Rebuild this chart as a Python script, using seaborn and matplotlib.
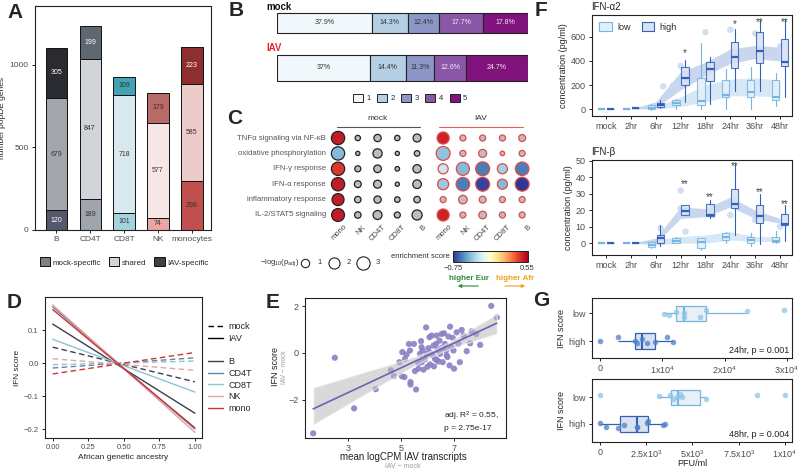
import numpy as np
import pandas as pd
import matplotlib
matplotlib.use("Agg")
import matplotlib.pyplot as plt
from matplotlib.patches import Patch
from matplotlib.lines import Line2D
from matplotlib.colors import Normalize
from matplotlib.cm import ScalarMappable
import seaborn as sns

nan = np.nan

# ---------------- A: popDE genes per cell type
cell_types = ['B', 'CD4T', 'CD8T', 'NK', 'monocytes']
mock_specific = [120, 189, 101, 74, 298]
shared = [679, 847, 718, 577, 585]
iav_specific = [305, 199, 109, 179, 223]

# ---------------- B: quintile percentages
quintiles = ['1', '2', '3', '4', '5']
pct_mock = [37.9, 14.3, 12.4, 17.7, 17.8]
pct_iav = [37, 14.4, 11.3, 12.6, 24.7]

# ---------------- C: pathway enrichment dot plot
pathways = ['TNFα signaling via NF-κB', 'oxidative phosphorylation', 'IFN-γ response',
            'IFN-α response', 'inflammatory response', 'IL-2/STAT5 signaling']
dot_cells = ['mono', 'NK', 'CD4T', 'CD8T', 'B']
mock_logp = [[3.0, 0.25, 0.7, 0.25, 0.9],
             [3.0, 0.05, 1.3, 0.05, 0.3],
             [3.0, 0.4, 0.8, 0.1, 1.0],
             [3.0, 0.6, 0.9, 0.05, 1.1],
             [2.4, 0.5, 0.7, 0.3, 0.5],
             [2.8, 0.5, 1.2, 0.4, 1.6]]
mock_es = [[0.47, nan, nan, nan, nan],
           [-0.45, nan, nan, nan, nan],
           [0.40, nan, nan, nan, nan],
           [0.47, nan, nan, nan, nan],
           [0.47, nan, nan, nan, nan],
           [0.47, nan, nan, nan, nan]]
iav_logp = [[2.4, 0.4, 0.4, 0.4, 0.6],
            [3.3, 0.4, 0.9, 0.1, 0.4],
            [1.6, 2.9, 3.3, 1.6, 3.1],
            [2.0, 3.1, 3.3, 1.6, 3.3],
            [0.4, 1.1, 0.6, 0.4, 0.4],
            [2.4, 0.4, 0.8, 0.4, 0.4]]
iav_es = [[0.45, nan, nan, nan, nan],
          [-0.42, nan, nan, nan, nan],
          [-0.28, -0.45, -0.6, -0.38, -0.6],
          [-0.4, -0.6, -0.72, -0.45, -0.75],
          [nan, nan, nan, nan, nan],
          [0.45, nan, nan, nan, nan]]

# ---------------- D: IFN score vs ancestry (fitted line ends)
d_cells = ['B', 'CD4T', 'CD8T', 'NK', 'mono']
d_colors = ['#3b3f4f', '#5b87a8', '#8fc3d5', '#e3a2a2', '#cf3434']
ancestry = [0.0, 1.0]
iav_score = [[0.118, -0.152], [0.170, -0.200], [0.072, -0.088], [0.176, -0.210], [0.162, -0.196]]
mock_score = [[0.048, -0.057], [-0.015, 0.016], [-0.005, 0.006], [0.013, -0.022], [-0.033, 0.032]]

# ---------------- E: IFN score vs IAV transcripts
e_logcpm = [1.67, 2.49, 3.22, 4.04, 4.62, 4.73, 4.94, 5.03, 5.13, 5.05, 5.30, 5.34, 5.36, 5.36,
            5.49, 5.53, 5.57, 5.66, 5.72, 5.76, 5.78, 5.82, 5.85, 5.91, 5.95, 5.97, 6.04, 6.08,
            6.10, 6.13, 6.16, 6.20, 6.23, 6.25, 6.33, 6.35, 6.39, 6.42, 6.46, 6.48, 6.54, 6.58,
            6.63, 6.67, 6.71, 6.73, 6.80, 6.84, 6.86, 6.90, 6.96, 6.99, 7.01, 7.11, 7.18, 7.23,
            7.30, 7.37, 7.49, 7.62, 7.68, 7.85, 8.00, 8.42, 8.63, 5.15, 5.21, 6.35, 6.54, 5.78,
            6.76, 6.29, 6.00, 5.66]
e_ifn = [-3.45, -0.21, -2.38, -1.56, -0.75, -1.00, -0.40, -1.00, -1.04, 0.03, 0.38, 0.10, -1.25,
         -1.36, 0.38, -0.78, -1.57, -0.44, -0.04, 0.50, -0.40, 0.10, -0.72, -0.27, 1.09, -0.04,
         0.20, 0.67, -0.50, -0.01, 0.74, -0.11, 0.31, -0.58, 0.38, -0.30, 0.13, -0.37, 0.52,
         -0.04, 0.20, -0.40, 0.84, 0.38, 0.10, -0.11, 0.70, -0.54, 1.12, 0.24, 0.64, 0.10, -0.68,
         0.88, 0.38, -0.40, 0.98, 0.74, 0.07, 0.41, 0.92, 0.81, 0.34, 2.01, 1.52, -0.26, -0.07,
         0.74, 0.81, 0.24, -0.18, -0.26, -0.60, -0.68]

# ---------------- F: cytokine secretion over time
times = ['mock', '2hr', '6hr', '12hr', '18hr', '24hr', '36hr', '48hr']
a2_low_lo = [0, 0, -5, 0, 0, 0, 0, 25]
a2_low_q1 = [0, 0, 0, 35, 30, 100, 100, 75]
a2_low_med = [0, 0, 10, 50, 70, 120, 145, 100]
a2_low_q3 = [0, 0, 30, 75, 260, 240, 240, 240]
a2_low_hi = [0, 0, 40, 85, 550, 330, 350, 300]
a2_high_lo = [0, 5, 10, 60, 40, 150, 150, 100]
a2_high_q1 = [0, 8, 20, 200, 230, 340, 380, 360]
a2_high_med = [0, 10, 35, 255, 330, 430, 480, 390]
a2_high_q3 = [0, 12, 48, 350, 390, 555, 640, 580]
a2_high_hi = [0, 15, 75, 410, 430, 670, 740, 740]
a2_low_band = [[0, 0, 0, 20, 60, 110, 110, 100], [0, 0, 20, 100, 200, 250, 260, 240]]
a2_high_band = [[0, 0, 10, 160, 280, 380, 420, 400], [0, 0, 60, 310, 390, 500, 530, 515]]
a2_pt_time = [2.3, 2.7, 3, 3.2, 4, 5, 6, 7]
a2_pt_val = [190, 195, 360, 300, 640, 660, 630, 520]
a2_stars = {3: '*', 5: '*', 6: '**', 7: '**'}
a2_star_y = [0, 0, 0, 470, 0, 705, 725, 725]

b_low_lo = [0, 0, -3, 0, -4, 0, -2, 0]
b_low_q1 = [0, 0, -2.5, 0, -3, 2, 0, 0.5]
b_low_med = [0, 0, -1, 1, 0.5, 3.5, 2, 1]
b_low_q3 = [0, 0, 0.5, 3, 3, 6, 4, 4]
b_low_hi = [0, 0, 0.5, 4, 3, 7, 6, 7.5]
b_high_lo = [0, 0, -2, 17, 15, 5, -0.5, 1]
b_high_q1 = [0, 0, 0, 17, 16.5, 21.5, 12, 11]
b_high_med = [0, 0, 3, 19.5, 17, 23.5, 16.5, 11.5]
b_high_q3 = [0, 0, 5, 23, 23.5, 33, 23, 18]
b_high_hi = [0, 0, 11, 23, 26, 48, 30, 23]
b_low_band = [[0, 0, -1, 0, 0, 2, 1, 1], [0, 0, 2, 4, 5, 7, 4, 4]]
b_high_band = [[0, 0, 0, 15, 16, 22, 15, 12], [0, 0, 3, 22, 21, 28, 20, 15]]
b_pt_time = [2.2, 3, 3, 3.2, 4.3, 5, 6, 7]
b_pt_val = [9, 32, 21, 7, 17, 17, 14, 10]
b_stars = {3: '**', 4: '**', 5: '**', 6: '**', 7: '**'}
b_star_y = [0, 0, 0, 36, 28, 47, 31, 24]

# ---------------- G: viral titres by IFN score group
g24_low = [10300, 11000, 12200, 13500, 13500, 16100, 17000, 23570, 29460]
g24_high = [0, 2900, 5600, 6000, 6700, 7500, 8800, 10800, 11700]
g48_low = [0, 3200, 3780, 3960, 4140, 4320, 4410, 5730, 8470, 10000]
g48_high = [0, 325, 1000, 1300, 1980, 2000, 2560, 2600, 3400, 3510]

# ======================================================================
sns.set_theme(style='ticks')
plt.rcParams['font.family'] = ['Liberation Sans', 'DejaVu Sans']
plt.rcParams['mathtext.default'] = 'regular'
plt.rcParams['font.size'] = 6
plt.rcParams['axes.linewidth'] = 0.8
plt.rcParams['axes.edgecolor'] = '#222222'
plt.rcParams['xtick.major.size'] = 2.5
plt.rcParams['ytick.major.size'] = 2.5
plt.rcParams['xtick.major.width'] = 0.7
plt.rcParams['ytick.major.width'] = 0.7
plt.rcParams['xtick.major.pad'] = 2
plt.rcParams['ytick.major.pad'] = 2

W, H = 800, 470
fig = plt.figure(figsize=(8, 4.7), dpi=100)


def box(l, t, r, b):
    return [l / W, 1 - b / H, (r - l) / W, (b - t) / H]


def ftext(x, y, s, **kw):
    kw.setdefault('ha', 'center')
    kw.setdefault('va', 'center')
    fig.text(x / W, 1 - y / H, s, **kw)


def frame(ax, fs=6):
    for sp in ax.spines.values():
        sp.set_visible(True)
        sp.set_color('#222222')
        sp.set_linewidth(0.8)
    ax.tick_params(labelsize=fs, colors='#222222', labelcolor='#4d4d4d')


for letter, (x, y) in zip('ABCDEFG', [(15, 12), (236, 11), (235, 118), (14, 302),
                                       (273, 303), (541, 11), (541, 301)]):
    ftext(x, y, letter, fontsize=15, fontweight='bold')

# ---------------- A
ax = fig.add_axes(box(35, 6, 211, 230))
a_cols = {'mock': ['#55586a', '#a0a4ad', '#a4d3e0', '#eaa6a5', '#c0504e'],
          'shared': ['#a3a5ad', '#d2d4da', '#d9e9ef', '#f7e6e6', '#edcbc9'],
          'iav': ['#2a2b31', '#5f6771', '#43a2b3', '#b96a67', '#8e2f2f']}
a_white = {'mock': [True, False, False, False, False], 'shared': [False] * 5,
           'iav': [True, True, False, False, True]}
xs = np.arange(len(cell_types))
bottom = np.zeros(len(cell_types))
for key, vals in [('mock', mock_specific), ('shared', shared), ('iav', iav_specific)]:
    ax.bar(xs, vals, bottom=bottom, width=0.62, color=a_cols[key], edgecolor='#111111', lw=0.7)
    for i, v in enumerate(vals):
        ax.text(i, bottom[i] + v / 2, str(v), ha='center', va='center', fontsize=5,
                color='white' if a_white[key][i] else '#333333')
    bottom += np.array(vals)
ax.set_xlim(-0.62, 4.56)
ax.set_ylim(0, 1357)
ax.set_yticks([0, 500, 1000])
ax.set_xticks(xs, cell_types)
ax.set_ylabel('number popDE genes', fontsize=6, labelpad=3)
frame(ax, 6)
a_handles = [Patch(facecolor=c, edgecolor='#111111', lw=0.7) for c in ['#808080', '#d4d4d4', '#404040']]
fig.legend(a_handles, ['mock-specific', 'shared', 'IAV-specific'], loc='center',
           bbox_to_anchor=(124 / W, 1 - 262 / H), ncol=3, frameon=False, fontsize=5.8,
           handlelength=1.3, handleheight=1.3, handletextpad=0.3, columnspacing=1.0)

# ---------------- B
axb = fig.add_axes(box(277, 5, 528, 85))
b_cols = ['#f0f8fb', '#b5cfe4', '#8c97c7', '#8a57a8', '#80137c']
b_txt = ['#333333', '#333333', '#333333', '#eeeeee', '#eeeeee']
b_height = [0.44, 0.58]
for row, vals in enumerate([pct_mock, pct_iav]):
    left = 0
    for k, v in enumerate(vals):
        axb.barh(row, v, left=left, height=b_height[row], color=b_cols[k], edgecolor='#222222', lw=0.8)
        axb.text(left + v / 2, row, f'{v:g}%', ha='center', va='center', fontsize=5, color=b_txt[k])
        left += v
axb.set_xlim(0, 100.1)
axb.set_ylim(1.378, -0.4)
axb.axis('off')
ftext(266, 7, 'mock', fontsize=7, fontweight='bold', ha='left', color='#111111')
ftext(266, 48, 'IAV', fontsize=7, fontweight='bold', ha='left', color='#e8262b')
fig.legend([Patch(facecolor=c, edgecolor='#222222', lw=0.7) for c in b_cols], quintiles,
           loc='center', bbox_to_anchor=(410 / W, 1 - 98 / H), ncol=5, frameon=False,
           fontsize=5.5, handlelength=1.3, handleheight=1.3, handletextpad=0.4, columnspacing=0.9)

# ---------------- C
axc = fig.add_axes(box(325, 128, 535, 225))
cmap = plt.get_cmap('RdYlBu_r')
norm = Normalize(-0.75, 0.55)
iav_off = 5.32
for off, logp, es, edge in [(0, mock_logp, mock_es, '#222222'), (iav_off, iav_logp, iav_es, '#e04a4a')]:
    logp = np.array(logp)
    es = np.array(es, dtype=float)
    px, py, ps, pc = [], [], [], []
    for r in range(len(pathways)):
        for c in range(len(dot_cells)):
            px.append(c + off)
            py.append(r)
            ps.append(7.8 + 28 * logp[r, c])
            pc.append('#bdbdbd' if np.isnan(es[r, c]) else cmap(norm(es[r, c])))
    axc.scatter(px, py, s=ps, c=pc, edgecolors=edge, linewidths=0.9, zorder=3)
    for c, name in enumerate(dot_cells):
        axc.text(c + off + 0.25, 5.55, name, rotation=45, ha='right', va='top',
                 rotation_mode='anchor', fontsize=5.5, color='#444444')
for r, name in enumerate(pathways):
    axc.text(-0.6, r, name, ha='right', va='center', fontsize=5.6, color='#555555')
axc.set_xlim(-0.66, 9.97)
axc.set_ylim(5.65, -0.65)
axc.axis('off')

ov = fig.add_axes([0, 0, 1, 1], zorder=-1)
ov.set_xlim(0, W)
ov.set_ylim(H, 0)
ov.axis('off')
ov.plot([337, 420], [127, 127], color='#555555', lw=0.8)
ov.plot([439, 523], [127, 127], color='#e06060', lw=0.8)
ftext(378, 119, 'mock', fontsize=6, color='#333333')
ftext(481, 119, 'IAV', fontsize=6, color='#333333')

ftext(280, 263, '$-log_{10}(p_{adj})$', fontsize=5.5, color='#333333')
for v, cx in zip([1, 2, 3], [305, 334, 363]):
    ov.scatter([cx], [263], s=7.8 + 28 * v, facecolor='white', edgecolor='#222222', lw=0.8)
    ftext(cx + 15, 263, str(v), fontsize=5.5, color='#333333')
ftext(420, 257, 'enrichment score', fontsize=5.5, color='#333333')
cax = fig.add_axes(box(453, 251, 528, 262))
cb = fig.colorbar(ScalarMappable(norm=norm, cmap=cmap), cax=cax, orientation='horizontal')
cb.set_ticks([])
cb.outline.set_linewidth(0.7)
ftext(453, 269, '−0.75', fontsize=5.5, color='#333333')
ftext(527, 269, '0.55', fontsize=5.5, color='#333333')
ftext(469, 278, 'higher Eur', fontsize=5.8, fontweight='bold', color='#2e8b3a')
ftext(515, 278, 'higher Afr', fontsize=5.8, fontweight='bold', color='#f2a01c')
ov.annotate('', xy=(455, 286), xytext=(481, 286),
            arrowprops=dict(arrowstyle='-|>', color='#2e8b3a', lw=0.8, mutation_scale=5))
ov.annotate('', xy=(528, 286), xytext=(502, 286),
            arrowprops=dict(arrowstyle='-|>', color='#f2a01c', lw=0.8, mutation_scale=5))

# ---------------- D
axd = fig.add_axes(box(45, 297, 202, 438))
d_rows = []
for i, cell in enumerate(d_cells):
    for cond, scores in [('mock', mock_score), ('IAV', iav_score)]:
        for a, s in zip(ancestry, scores[i]):
            d_rows.append({'ancestry': a, 'score': s, 'cell': cell, 'condition': cond})
d_df = pd.DataFrame(d_rows)
sns.lineplot(data=d_df, x='ancestry', y='score', hue='cell', style='condition',
             palette=dict(zip(d_cells, d_colors)), dashes={'IAV': '', 'mock': (4, 2.5)},
             legend=False, lw=1.0, ax=axd)
axd.set_xlim(-0.054, 1.05)
axd.set_ylim(-0.227, 0.2)
axd.set_xticks([0, 0.25, 0.5, 0.75, 1.0], ['0.00', '0.25', '0.50', '0.75', '1.00'])
axd.set_yticks([-0.2, -0.1, 0, 0.1], ['−0.2', '−0.1', '0.0', '0.1'])
axd.set_xlabel('African genetic ancestry', fontsize=6, labelpad=2)
axd.set_ylabel('IFN score', fontsize=6, labelpad=2)
frame(axd, 5.5)
d_handles = [Line2D([], [], color='black', lw=1, ls=(0, (4, 2.5))), Line2D([], [], color='black', lw=1),
             Line2D([], [], color='none')] + [Line2D([], [], color=c, lw=1) for c in d_colors]
axd.legend(d_handles, ['mock', 'IAV', ''] + d_cells, loc='center left', bbox_to_anchor=(1.04, 0.5),
           frameon=False, fontsize=6.5, handlelength=1.6, handletextpad=0.6, labelspacing=0.3,
           borderaxespad=0, borderpad=0)

# ---------------- E
axe = fig.add_axes(box(305, 298, 506, 438))
sns.regplot(x=e_logcpm, y=e_ifn, ax=axe, ci=95,
            scatter_kws=dict(s=20, color='#8d7fc4', alpha=0.9, edgecolor='none'),
            line_kws=dict(color='#7060b8', lw=1.2))
for coll in axe.collections[1:]:
    coll.set_facecolor('#bbbbbb')
    coll.set_alpha(0.55)
axe.set_xlim(1.36, 8.98)
axe.set_ylim(-3.65, 2.35)
axe.set_xticks([3, 5, 7])
axe.set_yticks([-2, 0, 2], ['−2', '0', '2'])
frame(axe, 6.5)
ftext(276, 367, 'IFN score', fontsize=6.5, rotation=90, color='#222222')
ftext(285, 367, 'IAV − mock', fontsize=4.8, rotation=90, color='#999999')
ftext(403, 457, 'mean logCPM IAV transcripts', fontsize=7, color='#222222')
ftext(403, 467, 'IAV − mock', fontsize=5, color='#999999')
axe.text(0.69, 0.2, 'adj. R$^2$ = 0.55,\np = 2.75e-17', transform=axe.transAxes,
         ha='left', va='top', fontsize=6, color='#222222', linespacing=1.3)

# ---------------- F
low_edge, low_face = '#74b6e2', '#e4f0f9'
high_edge, high_face = '#2f62b6', '#d8e1f2'


def stats_list(lo, q1, med, q3, hi):
    return [dict(whislo=a, q1=b, med=c, q3=d, whishi=e) for a, b, c, d, e in zip(lo, q1, med, q3, hi)]


def f_panel(rect, low, high, low_band, high_band, pt_t, pt_v, stars, star_y, ylim, yticks, title):
    axf = fig.add_axes(box(*rect))
    pos = np.arange(len(times))
    axf.fill_between(pos, low_band[0], low_band[1], color='#c7def2', alpha=0.7, lw=0, zorder=1)
    axf.fill_between(pos, high_band[0], high_band[1], color='#a8bce3', alpha=0.6, lw=0, zorder=1)
    axf.scatter(pt_t, pt_v, s=22, color='#c9d7ee', alpha=0.8, edgecolor='none', zorder=1)
    for st, off, ec, fc in [(low, -0.18, low_edge, low_face), (high, 0.18, high_edge, high_face)]:
        axf.bxp(st, positions=pos + off, widths=0.29, patch_artist=True, showfliers=False,
                showcaps=False, manage_ticks=False,
                boxprops=dict(facecolor=fc, edgecolor=ec, lw=0.8, alpha=0.85),
                medianprops=dict(color=ec, lw=1.6),
                whiskerprops=dict(color=ec, lw=0.8), zorder=2)
    for t, s in stars.items():
        axf.text(t + 0.18, star_y[t], s, ha='center', va='center', fontsize=7, color='#444444')
    axf.set_xlim(-0.56, 7.48)
    axf.set_ylim(*ylim)
    axf.set_xticks(pos, times)
    axf.set_yticks(yticks)
    axf.set_ylabel('concentration (pg/ml)', fontsize=6.5, labelpad=2)
    frame(axf, 6.5)
    ftext(rect[0] - 1, rect[1] - 8, title, fontsize=7, ha='left', color='#222222')
    return axf


axf1 = f_panel((592, 15, 792, 116),
               stats_list(a2_low_lo, a2_low_q1, a2_low_med, a2_low_q3, a2_low_hi),
               stats_list(a2_high_lo, a2_high_q1, a2_high_med, a2_high_q3, a2_high_hi),
               a2_low_band, a2_high_band, a2_pt_time, a2_pt_val, a2_stars, a2_star_y,
               (-58, 783), [0, 200, 400, 600], 'IFN-α2')
axf1.legend([Patch(facecolor=low_face, edgecolor=low_edge, lw=0.8),
             Patch(facecolor=high_face, edgecolor=high_edge, lw=0.8)], ['low', 'high'],
            loc='upper left', ncol=2, frameon=False, fontsize=6.5, handlelength=1.4,
            handleheight=1.2, handletextpad=0.6, columnspacing=1.2, borderaxespad=0.4)
f_panel((592, 160, 792, 255),
        stats_list(b_low_lo, b_low_q1, b_low_med, b_low_q3, b_low_hi),
        stats_list(b_high_lo, b_high_q1, b_high_med, b_high_q3, b_high_hi),
        b_low_band, b_high_band, b_pt_time, b_pt_val, b_stars, b_star_y,
        (-7.2, 50.5), [0, 10, 20, 30, 40, 50], 'IFN-β')

# ---------------- G
g_point = {'low': '#8cc4e8', 'high': '#4f7fc8'}
g_face = {'low': low_face, 'high': high_face}
g_edge = {'low': low_edge, 'high': high_edge}


def g_panel(rect, low_vals, high_vals, xlim, xticks, xlabels, ylim, note):
    axg = fig.add_axes(box(*rect))
    for grp, vals in [('low', low_vals), ('high', high_vals)]:
        sns.boxplot(x=vals, y=[grp] * len(vals), order=['low', 'high'], orient='h', width=0.56,
                    color=g_face[grp], linecolor=g_edge[grp], linewidth=0.9, showfliers=False,
                    showcaps=False, medianprops=dict(lw=1.5), ax=axg)
        sns.stripplot(x=vals, y=[grp] * len(vals), order=['low', 'high'], orient='h', jitter=0.15,
                      color=g_point[grp], alpha=0.75, size=4, ax=axg, zorder=3)
    axg.set_xlim(*xlim)
    axg.set_ylim(*ylim)
    axg.set_xticks(xticks, xlabels)
    axg.set_ylabel('IFN score', fontsize=6.5, labelpad=2)
    axg.set_xlabel('')
    frame(axg, 6.5)
    axg.text(0.985, 0.12, note, transform=axg.transAxes, ha='right', va='center', fontsize=6.5,
             color='#222222')
    return axg


np.random.seed(3)
g_panel((592, 298, 792, 358), g24_low, g24_high, (-1300, 30800),
        [0, 10000, 20000, 30000], ['0', '1x10$^4$', '2x10$^4$', '3x10$^4$'], (1.6, -0.55),
        '24hr, p = 0.001')
g_panel((592, 379, 792, 442), g48_low, g48_high, (-430, 10380),
        [0, 2500, 5000, 7500, 10000], ['0', '2.5x10$^3$', '5x10$^3$', '7.5x10$^3$', '1x10$^4$'],
        (1.67, -0.67), '48hr, p = 0.004')
ftext(692, 463, 'PFU/ml', fontsize=6.5, color='#222222')

fig.savefig('out.png', dpi=100)
